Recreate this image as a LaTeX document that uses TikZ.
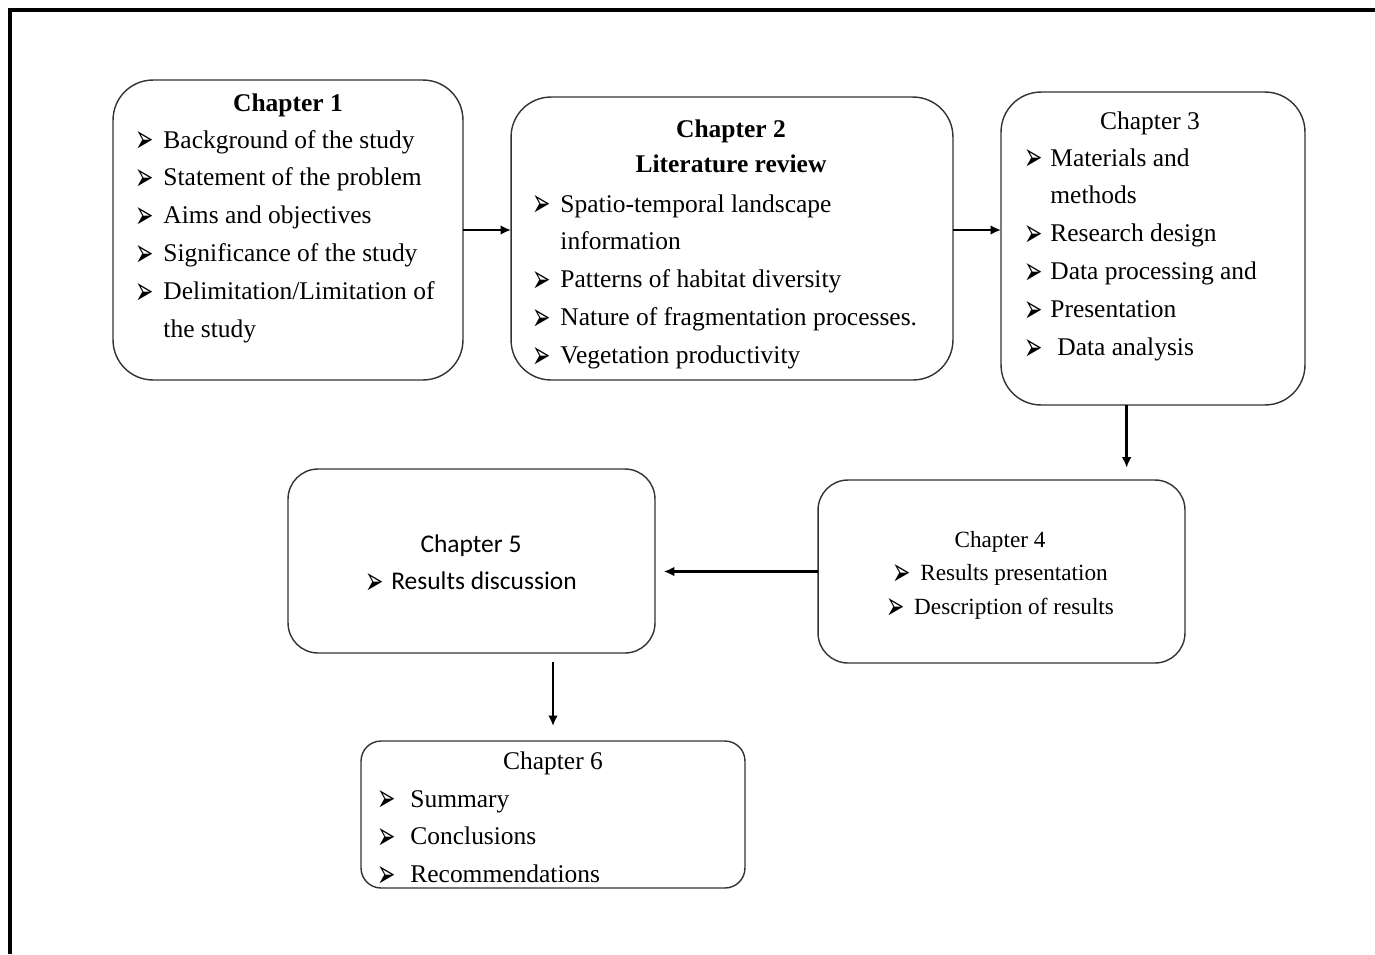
\documentclass[tikz,border=0pt]{standalone}
\usepackage{fontspec}
\setmainfont{Liberation Serif}
\newfontfamily\calibfont{Carlito}
\newfontfamily\symfont{DejaVu Sans}
\usetikzlibrary{arrows.meta}
% arrowhead bullet, fixed width
\newcommand\arr[1][16pt]{\makebox[#1][l]{\smash{\raisebox{-2.8pt}{\scalebox{0.78}[1.4]{\symfont\fontsize{16}{16}\selectfont ➢}}}}}

\begin{document}
\begin{tikzpicture}[x=0.02cm, y=-0.02cm,
    chbox/.style={draw=black!80, line width=0.8pt, inner sep=0pt, outer sep=0pt},
    txt/.style={inner sep=0pt, font=\fontsize{14.5}{21.6}\selectfont},
    conn/.style={line width=1.4pt, -{Latex[length=6pt,width=5.5pt]}}]

    \useasboundingbox (0,0) rectangle (1375,954);

    % frame
    \draw[line width=2.4pt] (10,954) -- (10,10) -- (1375,10);

    % boxes
    \node[chbox, rounded corners=0.8cm, minimum width=7cm, minimum height=6cm] (c1) at (288,230) {};
    \node[chbox, rounded corners=0.8cm, minimum width=8.84cm, minimum height=5.66cm] (c2) at (732,238.5) {};
    \node[chbox, rounded corners=0.8cm, minimum width=6.08cm, minimum height=6.26cm] (c3) at (1153,248.5) {};
    \node[chbox, rounded corners=0.6cm, minimum width=7.34cm, minimum height=3.66cm] (c4) at (1001.5,571.5) {};
    \node[chbox, rounded corners=0.6cm, minimum width=7.34cm, minimum height=3.68cm] (c5) at (471.5,561) {};
    \node[chbox, rounded corners=0.4cm, minimum width=7.68cm, minimum height=2.94cm] (c6) at (553,814.5) {};

    % Chapter 1
    \node[txt, anchor=base] (t1) at (288,111) {\textbf{Chapter 1}};
    \node[txt, anchor=base west] (l1) at (135,148) {\begin{tabular}[t]{@{}l@{}}
        \arr Background of the study\\
        \arr Statement of the problem\\
        \arr Aims and objectives\\
        \arr Significance of the study\\
        \arr Delimitation/Limitation of\\
        \hspace{16pt}the study
    \end{tabular}};

    % Chapter 2
    \node[txt, anchor=base] (t2) at (731,137) {\begin{tabular}[t]{@{}c@{}}
        \textbf{Chapter 2}\\[-1.6pt]
        \textbf{Literature review}
    \end{tabular}};
    \node[txt, anchor=base west] (l2) at (532,212) {\begin{tabular}[t]{@{}l@{}}
        \arr Spatio-temporal landscape\\
        \hspace{16pt}information\\
        \arr Patterns of habitat diversity\\
        \arr Nature of fragmentation processes.\\
        \arr Vegetation productivity
    \end{tabular}};

    % Chapter 3
    \node[txt, anchor=base] (t3) at (1150,129) {Chapter 3};
    \node[txt, anchor=base west] (l3) at (1024,166) {\begin{tabular}[t]{@{}l@{}}
        \arr[14.8pt]Materials and\\
        \hspace{14.8pt}methods\\
        \arr[14.8pt]Research design\\
        \arr[14.8pt]Data processing and\\
        \arr[14.8pt]Presentation\\
        \arr[18.8pt]Data analysis
    \end{tabular}};

    % Chapter 4
    \node[txt, font=\fontsize{13.2}{19.3}\selectfont, anchor=base] (t4) at (1000,547) {\begin{tabular}[t]{@{}c@{}}
        Chapter 4\\
        \arr Results presentation\\
        \arr Description of results
    \end{tabular}};

    % Chapter 5
    \node[txt, font=\calibfont\fontsize{14.5}{21.6}\selectfont, anchor=base] (t5) at (471,552) {\begin{tabular}[t]{@{}c@{}}
        Chapter 5\\
        \arr[14.8pt]Results discussion
    \end{tabular}};

    % Chapter 6
    \node[txt, anchor=base] (t6) at (553,769) {Chapter 6};
    \node[txt, anchor=base west] (l6) at (377,807) {\begin{tabular}[t]{@{}l@{}}
        \arr[18.8pt]Summary\\
        \arr[18.8pt]Conclusions\\
        \arr[18.8pt]Recommendations
    \end{tabular}};

    % connectors
    \draw[conn] (c1.east) -- (c1.east -| c2.west);
    \draw[conn] (c2.east |- c1.east) -- (c3.west |- c1.east);
    \coordinate (a34) at ([xshift=-15pt]c3.south);
    \draw[conn, shorten >=7pt] (a34) -- (a34 |- c4.north);
    \draw[conn, shorten >=5pt] (c4.west) -- (c4.west -| c5.east);
    \draw[conn, shorten <=5pt, shorten >=8.5pt] (c6.north |- c5.south) -- (c6.north);
\end{tikzpicture}
\end{document}
